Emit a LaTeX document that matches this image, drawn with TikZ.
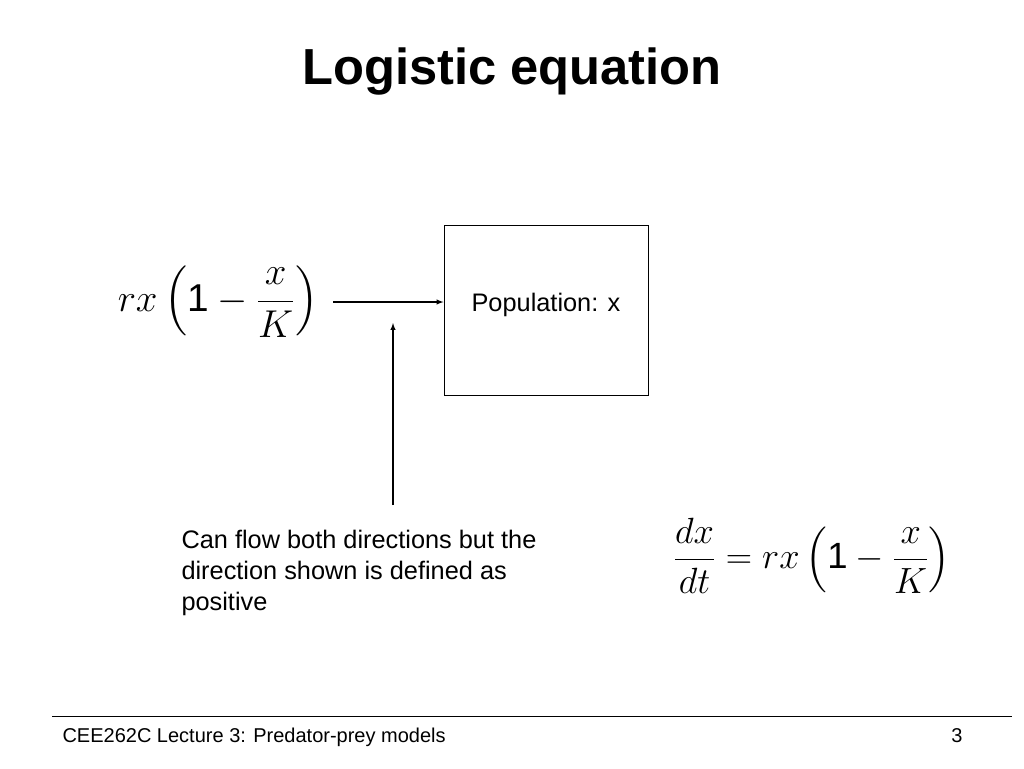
\documentclass[tikz,border=0pt]{standalone}
\usepackage{amsmath}
\usepackage{fontspec}
\setmainfont{Liberation Sans}
\usetikzlibrary{calc}

\begin{document}
\begin{tikzpicture}[x=0.75pt,y=-0.75pt,thick,inner sep=0pt]

%Define sizes
\def\bodyfont{\fontsize{19}{23.25}\selectfont}   %Body text.
\def\mathsize{\fontsize{24.88}{30}\selectfont}    %Equations, scaled up by the node.
\def\logterm{rx\left(\text{1}-\dfrac{x}{K}\right)}

\useasboundingbox (0,0) rectangle (1024,768);

% Define coordinates
\coordinate (flowin) at (333,302);
\coordinate (signtop) at (393,323);
\coordinate (signbot) at (393,505);

% Title
\node[anchor=base,font=\fontsize{38}{44}\selectfont\bfseries] (title) at (512,84) {Logistic equation};

% Stock
\node[draw,line width=0.75pt,minimum width=153pt,minimum height=127.5pt] (pop) at (546,310) {};
\node[anchor=base,font=\bodyfont] (poplabel) at (546,311) {Population: x};

% Flow term
\node[font=\mathsize,scale=1.17] (flow) at (218,302) {$\displaystyle \logterm$};
\draw[->,>=latex] (flowin) -- (flowin -| pop.west);

% Sign convention
\draw[->,>=latex] (signbot) -- (signtop);
\node[anchor=base west,align=left,font=\bodyfont] (note) at (181,610)
  {Can flow both directions but the\\direction shown is defined as\\positive};

% Balance equation
\node[font=\mathsize,scale=1.1] (ode) at (812,556) {$\displaystyle \frac{dx}{dt}=\logterm$};

% Footer
\draw[line width=0.75pt] (52,716) coordinate (footl) -- (1012,716) coordinate (footr);
\node[anchor=base west,font=\fontsize{15}{18}\selectfont] (course) at (62,742) {CEE262C Lecture 3: Predator-prey models};
\node[anchor=base east,font=\fontsize{15}{18}\selectfont] (page) at (963,742) {3};

\end{tikzpicture}
\end{document}
